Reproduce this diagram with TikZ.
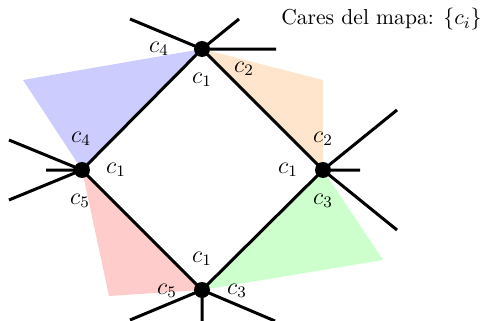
\documentclass[tikz,border=0pt]{standalone}
\begin{document}
\begin{tikzpicture}[x=0.5pt,y=-0.5pt,
  vert/.style={circle,fill=black,inner sep=0pt,minimum size=8pt},
  edge/.style={line width=1.5pt},
  lab/.style={inner sep=0pt,font=\fontsize{11.5}{14}\selectfont},
  face/.style={draw=none}]
\useasboundingbox (0,0) rectangle (483,321);
\coordinate (T) at (202,49);
\coordinate (L) at (82,170);
\coordinate (R) at (323,170);
\coordinate (B) at (202,290);
% faces
\fill[blue!20] (T) -- (23,80) -- (L) -- cycle;
\fill[orange!20] (T) -- (323,80) -- (R) -- cycle;
\fill[green!20] (R) -- (383,260) -- (B) -- cycle;
\fill[red!20] (L) -- (109,296) -- (B) -- cycle;
% stub ends
\coordinate (t1) at (130,19);
\coordinate (t2) at (239,19);
\coordinate (t3) at (276,49);
\coordinate (l1) at (9,140);
\coordinate (l2) at (46,170);
\coordinate (l3) at (9,200);
\coordinate (r1) at (397,110);
\coordinate (r2) at (360,170);
\coordinate (r3) at (397,230);
\coordinate (b1) at (130,320);
\coordinate (b2) at (202,321);
\coordinate (b3) at (275,321);
% edges
\draw[edge] (T) -- (L) -- (B) -- (R) -- cycle;
\draw[edge] (T) -- (t1) (T) -- (t2) (T) -- (t3);
\draw[edge] (L) -- (l1) (L) -- (l2) (L) -- (l3);
\draw[edge] (R) -- (r1) (R) -- (r2) (R) -- (r3);
\draw[edge] (B) -- (b1) (B) -- (b2) (B) -- (b3);
% vertices
\node[vert] (vT) at (T) {};
\node[vert] (vL) at (L) {};
\node[vert] (vR) at (R) {};
\node[vert] (vB) at (B) {};
% labels
\node[lab] (a1) at (159,49) {$c_4$};
\node[lab] (a2) at (202,80) {$c_1$};
\node[lab] (a3) at (244,69) {$c_2$};
\node[lab] (a4) at (81,139) {$c_4$};
\node[lab] (a5) at (116,170) {$c_1$};
\node[lab] (a6) at (80,201) {$c_5$};
\node[lab] (a7) at (323,139) {$c_2$};
\node[lab] (a8) at (288,170) {$c_1$};
\node[lab] (a9) at (323,201) {$c_3$};
\node[lab] (a10) at (202,259) {$c_1$};
\node[lab] (a11) at (167,291) {$c_5$};
\node[lab] (a12) at (237,291) {$c_3$};
\node[inner sep=0pt,font=\fontsize{10.8}{13}\selectfont,anchor=base east] (title) at (482,25) {Cares del mapa: $\{c_i\}$};
\end{tikzpicture}
\end{document}
